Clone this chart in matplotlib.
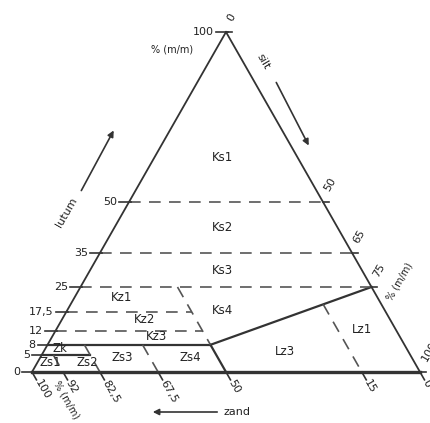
import matplotlib
matplotlib.use("Agg")
from matplotlib import pyplot as plt
import numpy as np

# ternary grondsoortentriangel: lutum (boven), zand (links onder), silt (rechts onder)
lutum_ticks = [0, 5, 8, 12, 17.5, 25, 35, 50, 100]
lutum_labels = ["0", "5", "8", "12", "17,5", "25", "35", "50", "100"]
zand_ticks = [100, 92, 82.5, 67.5, 50, 15, 0]
zand_labels = ["100", "92", "82,5", "67,5", "50", "15", "0"]
silt_ticks = [0, 50, 65, 75, 100]
silt_labels = ["0", "50", "65", "75", "100"]

# grenslijnen als (zand, lutum) paren
solid_lines = [
    [(92, 8), (50, 8)],
    [(95, 5), (82.5, 5)],
    [(50, 8), (50, 0)],
    [(50, 8), (0, 25)],
]
dashed_lines = [
    [(50, 50), (0, 50)],
    [(65, 35), (0, 35)],
    [(75, 25), (0, 25)],
    [(82.5, 17.5), (50, 17.5)],
    [(88, 12), (50, 12)],
    [(50, 25), (50, 8)],
    [(92, 5), (92, 0)],
    [(82.5, 8), (82.5, 0)],
    [(67.5, 8), (67.5, 0)],
    [(15, 19.9), (15, 0)],
]

# klassenamen en hun positie (zand, lutum)
classes = ["Ks1", "Ks2", "Ks3", "Ks4", "Kz1", "Kz2", "Kz3", "Zk",
           "Zs1", "Zs2", "Zs3", "Zs4", "Lz3", "Lz1"]
class_sand = [19.4, 29.7, 36, 41.9, 65.9, 63.3, 62.7, 89.4,
              93.9, 84.4, 74.6, 57.1, 31.9, 8.8]
class_lutum = [63.2, 42.6, 30, 18.2, 21.8, 15.3, 10.3, 6.8,
               2.9, 2.9, 4.4, 4.4, 5.9, 12.4]

X0, Y0, W, H = 32, 372, 388, 340


def to_xy(sand, lutum):
    sand = np.asarray(sand, dtype=float)
    lutum = np.asarray(lutum, dtype=float)
    xn = 100 - sand - 0.5 * lutum
    return X0 + W * xn / 100, Y0 - H * lutum / 100


fig = plt.figure(figsize=(4.31, 4.23), dpi=100)
ax = fig.add_axes([0, 0, 1, 1])
ax.set_xlim(0, 431)
ax.set_ylim(423, 0)
ax.axis("off")

edge = "#333333"
dash = "#555555"
txt = "#222222"
fs = 8

# driehoek
tx, ty = to_xy([100, 0, 0, 100], [0, 0, 100, 0])
ax.plot(tx[1:3], ty[1:3], color=edge, lw=1.3)
ax.plot(tx[2:4], ty[2:4], color=edge, lw=1.3)
ax.plot(tx[:2], ty[:2], color=edge, lw=2.4)

for seg in solid_lines:
    s, l = zip(*seg)
    x, y = to_xy(s, l)
    ax.plot(x, y, color=edge, lw=1.6)
for seg in dashed_lines:
    s, l = zip(*seg)
    x, y = to_xy(s, l)
    ax.plot(x, y, color=dash, lw=1.2, dashes=(7, 5))

# richting evenwijdig aan rechterzijde (scherm)
d = np.array([W / 2, H]) / np.hypot(W / 2, H)

# lutum-as (links)
for v, lab in zip(lutum_ticks, lutum_labels):
    x, y = to_xy(100 - v, v)
    ax.plot([x - 10, x + 2], [y, y], color=edge, lw=1.2)
    ax.text(x - 12, y, lab, ha="right", va="center", fontsize=fs, color=txt)

# zand-as (onder)
for v, lab in zip(zand_ticks, zand_labels):
    x, y = to_xy(v, 0)
    ax.plot([x, x + 9 * d[0]], [y, y + 9 * d[1]], color=edge, lw=1.2)
    ax.text(x + 10 * d[0], y + 10 * d[1], lab, rotation=-60,
            rotation_mode="anchor", ha="left", va="center", fontsize=fs, color=txt)

# silt-as (rechts)
for v, lab in zip(silt_ticks, silt_labels):
    x, y = to_xy(0, 100 - v)
    ax.plot([x, x + 6], [y, y], color=edge, lw=1.2)
    ax.text(x + 4, y - 11, lab, rotation=60, rotation_mode="anchor",
            ha="left", va="center", fontsize=fs, color=txt)

# klassenamen
cx, cy = to_xy(class_sand, class_lutum)
for name, x, y in zip(classes, cx, cy):
    ax.text(x, y, name, ha="center", va="center", fontsize=8.5, color=txt)

# eenheden
ax.text(172, 50, "% (m/m)", ha="center", va="center", fontsize=7, color=txt)
ax.text(400, 282, "% (m/m)", rotation=60, ha="center", va="center", fontsize=7, color=txt)
ax.text(66, 400, "% (m/m)", rotation=-60, ha="center", va="center", fontsize=7, color=txt)

# pijlen
arrow = dict(arrowstyle="-|>", color=edge, lw=1.2, mutation_scale=9)
ax.annotate("", xy=(115, 128), xytext=(80, 193), arrowprops=arrow)
ax.text(67, 212, "lutum", rotation=60, ha="center", va="center", fontsize=fs, color=txt)
ax.annotate("", xy=(310, 148), xytext=(275, 80), arrowprops=arrow)
ax.text(263, 62, "silt", rotation=-60, ha="center", va="center", fontsize=fs, color=txt)
ax.annotate("", xy=(150, 412), xytext=(220, 412), arrowprops=arrow)
ax.text(224, 412, "zand", ha="left", va="center", fontsize=fs, color=txt)

fig.savefig("out.png", dpi=100)
